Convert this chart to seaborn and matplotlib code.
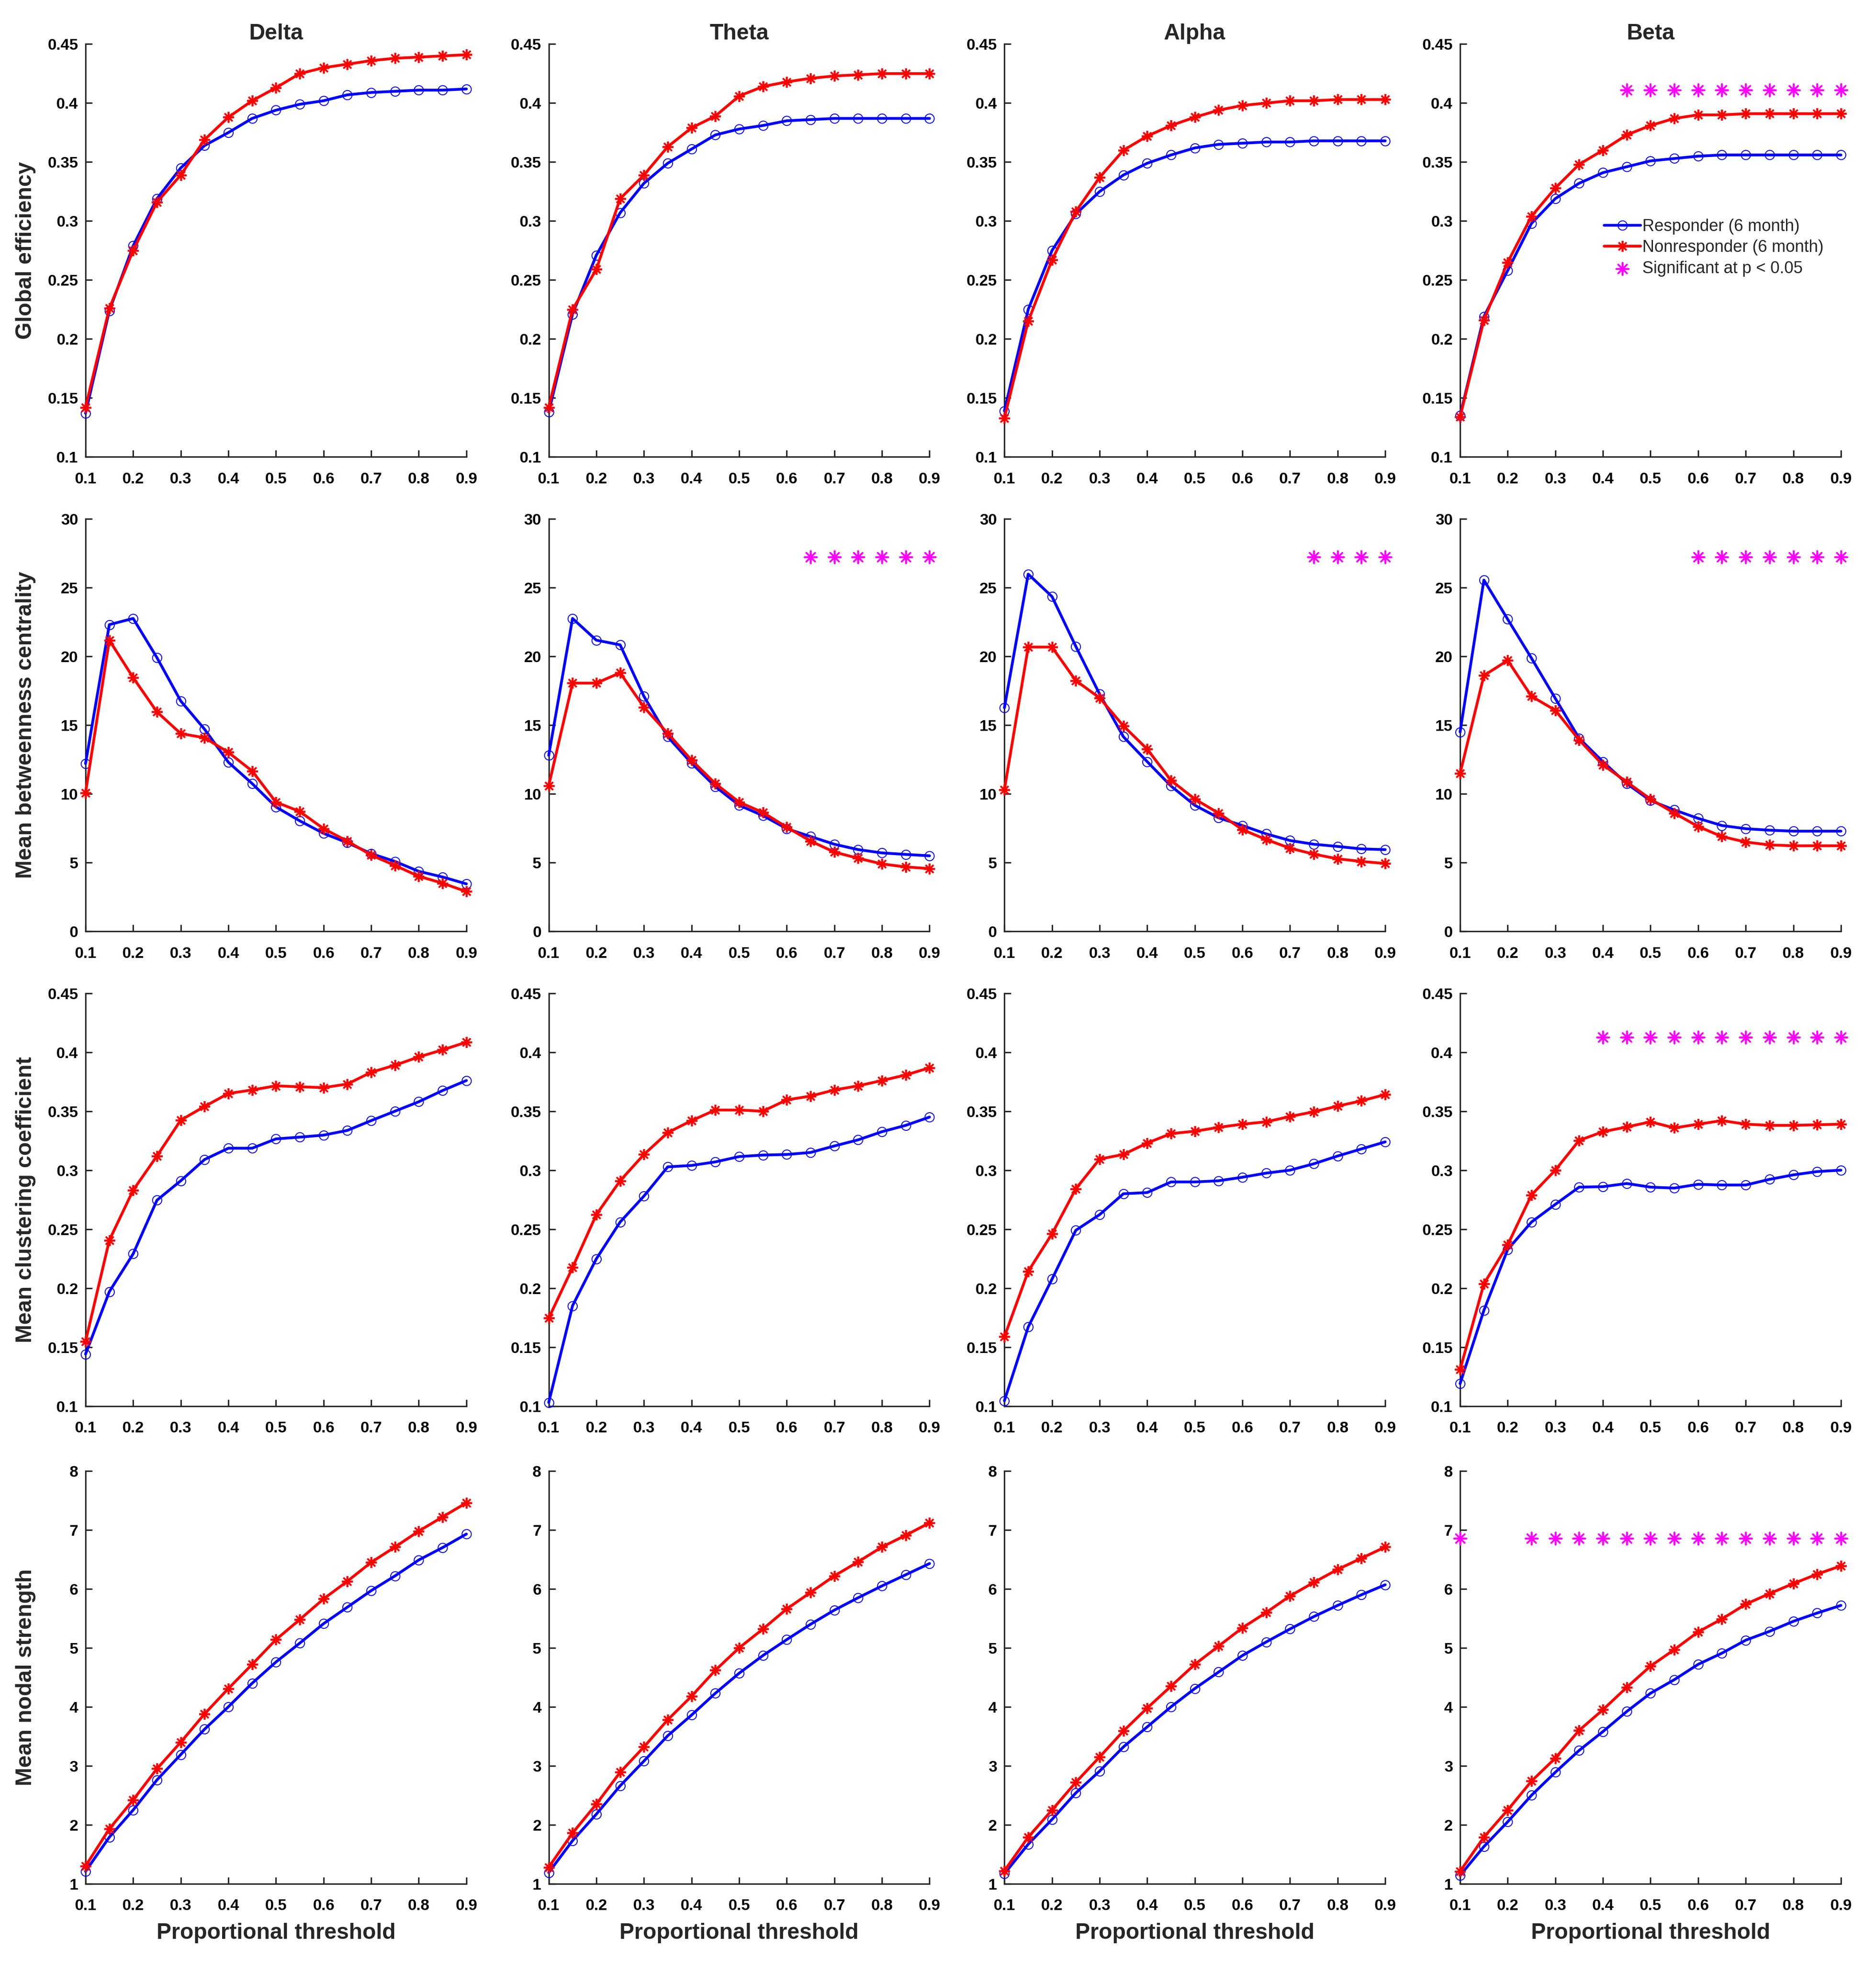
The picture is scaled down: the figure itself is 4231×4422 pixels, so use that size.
import numpy as np
import pandas as pd
import matplotlib
matplotlib.use('Agg')
from matplotlib import pyplot as plt
from matplotlib.ticker import FuncFormatter
import seaborn as sns

# Proportional thresholds (x axis)
thresholds = [0.1, 0.15, 0.2, 0.25, 0.3, 0.35, 0.4, 0.45, 0.5,
              0.55, 0.6, 0.65, 0.7, 0.75, 0.8, 0.85, 0.9]

bands = ['Delta', 'Theta', 'Alpha', 'Beta']
metrics = ['Global efficiency', 'Mean betweenness centrality',
           'Mean clustering coefficient', 'Mean nodal strength']

# Global efficiency
ge_delta_resp = [0.137, 0.224, 0.279, 0.319, 0.345, 0.364, 0.375, 0.387, 0.394,
                 0.399, 0.402, 0.407, 0.409, 0.410, 0.411, 0.411, 0.412]
ge_delta_non = [0.142, 0.226, 0.275, 0.316, 0.339, 0.369, 0.388, 0.402, 0.413,
                0.425, 0.430, 0.433, 0.436, 0.438, 0.439, 0.440, 0.441]
ge_theta_resp = [0.138, 0.221, 0.271, 0.307, 0.332, 0.349, 0.361, 0.373, 0.378,
                 0.381, 0.385, 0.386, 0.387, 0.387, 0.387, 0.387, 0.387]
ge_theta_non = [0.142, 0.225, 0.259, 0.319, 0.339, 0.363, 0.379, 0.389, 0.406,
                0.414, 0.418, 0.421, 0.423, 0.424, 0.425, 0.425, 0.425]
ge_alpha_resp = [0.139, 0.225, 0.275, 0.306, 0.325, 0.339, 0.349, 0.356, 0.362,
                 0.365, 0.366, 0.367, 0.367, 0.368, 0.368, 0.368, 0.368]
ge_alpha_non = [0.133, 0.215, 0.267, 0.308, 0.337, 0.360, 0.372, 0.381, 0.388,
                0.394, 0.398, 0.400, 0.402, 0.402, 0.403, 0.403, 0.403]
ge_beta_resp = [0.135, 0.219, 0.258, 0.298, 0.319, 0.332, 0.341, 0.346, 0.351,
                0.353, 0.355, 0.356, 0.356, 0.356, 0.356, 0.356, 0.356]
ge_beta_non = [0.134, 0.216, 0.265, 0.304, 0.328, 0.348, 0.360, 0.373, 0.381,
               0.387, 0.390, 0.390, 0.391, 0.391, 0.391, 0.391, 0.391]

# Mean betweenness centrality
bc_delta_resp = [12.2, 22.3, 22.75, 19.9, 16.75, 14.7, 12.3, 10.75, 9.05,
                 8.04, 7.13, 6.45, 5.66, 5.09, 4.37, 3.96, 3.46]
bc_delta_non = [10.08, 21.17, 18.45, 15.96, 14.38, 14.08, 13.02, 11.66, 9.40,
                8.72, 7.47, 6.57, 5.55, 4.80, 4.01, 3.51, 2.90]
bc_theta_resp = [12.8, 22.75, 21.17, 20.83, 17.09, 14.15, 12.23, 10.53, 9.17,
                 8.42, 7.47, 6.9, 6.34, 5.95, 5.71, 5.6, 5.5]
bc_theta_non = [10.6, 18.05, 18.05, 18.8, 16.3, 14.4, 12.45, 10.75, 9.4,
                8.65, 7.58, 6.57, 5.77, 5.32, 4.91, 4.69, 4.57]
bc_alpha_resp = [16.26, 25.97, 24.34, 20.72, 17.25, 14.15, 12.34, 10.57, 9.17,
                 8.26, 7.70, 7.09, 6.61, 6.34, 6.18, 6.0, 5.95]
bc_alpha_non = [10.3, 20.67, 20.67, 18.23, 16.98, 14.94, 13.25, 10.98, 9.62,
                8.6, 7.4, 6.68, 6.05, 5.62, 5.28, 5.09, 4.94]
bc_beta_resp = [14.5, 25.54, 22.69, 19.86, 16.94, 14.04, 12.34, 10.75, 9.51,
                8.83, 8.22, 7.70, 7.47, 7.36, 7.29, 7.29, 7.29]
bc_beta_non = [11.48, 18.6, 19.7, 17.09, 16.08, 13.92, 12.11, 10.87, 9.62,
               8.6, 7.63, 6.9, 6.5, 6.29, 6.23, 6.23, 6.23]

# Mean clustering coefficient
cc_delta_resp = [0.144, 0.197, 0.229, 0.2745, 0.291, 0.309, 0.3186, 0.3186, 0.3265,
                 0.328, 0.3297, 0.3337, 0.342, 0.350, 0.358, 0.3675, 0.376]
cc_delta_non = [0.1547, 0.2406, 0.283, 0.312, 0.3424, 0.354, 0.365, 0.368, 0.3715,
                0.3707, 0.370, 0.373, 0.383, 0.389, 0.396, 0.402, 0.4085]
cc_theta_resp = [0.103, 0.185, 0.2248, 0.256, 0.278, 0.3028, 0.304, 0.307, 0.3115,
                 0.3128, 0.3133, 0.315, 0.3205, 0.3257, 0.3326, 0.338, 0.345]
cc_theta_non = [0.1745, 0.2174, 0.2623, 0.291, 0.3133, 0.3318, 0.342, 0.351, 0.351,
                0.350, 0.3596, 0.3628, 0.368, 0.3715, 0.376, 0.3807, 0.3868]
cc_alpha_resp = [0.1045, 0.167, 0.2076, 0.249, 0.2623, 0.280, 0.281, 0.290, 0.290,
                 0.291, 0.294, 0.2975, 0.300, 0.3054, 0.312, 0.318, 0.324]
cc_alpha_non = [0.1587, 0.2142, 0.246, 0.2842, 0.3094, 0.3133, 0.323, 0.331, 0.333,
                0.3363, 0.339, 0.341, 0.3455, 0.3495, 0.3543, 0.3588, 0.3641]
cc_beta_resp = [0.119, 0.1811, 0.2327, 0.256, 0.271, 0.2856, 0.286, 0.2887, 0.2856,
                0.2848, 0.288, 0.2874, 0.2874, 0.2922, 0.296, 0.2988, 0.300]
cc_beta_non = [0.1309, 0.2036, 0.2367, 0.279, 0.300, 0.3252, 0.3326, 0.3366, 0.341,
               0.3358, 0.339, 0.342, 0.339, 0.338, 0.338, 0.3385, 0.339]

# Mean nodal strength
ns_delta_resp = [1.21, 1.79, 2.25, 2.76, 3.19, 3.62, 4.00, 4.40, 4.76,
                 5.08, 5.41, 5.69, 5.97, 6.22, 6.49, 6.70, 6.93]
ns_delta_non = [1.30, 1.93, 2.42, 2.95, 3.40, 3.88, 4.31, 4.72, 5.14,
                5.48, 5.83, 6.13, 6.45, 6.71, 6.98, 7.22, 7.46]
ns_theta_resp = [1.19, 1.73, 2.18, 2.66, 3.08, 3.51, 3.86, 4.23, 4.57,
                 4.87, 5.14, 5.40, 5.64, 5.85, 6.05, 6.24, 6.43]
ns_theta_non = [1.28, 1.86, 2.35, 2.89, 3.32, 3.78, 4.18, 4.62, 5.00,
                5.32, 5.66, 5.94, 6.22, 6.46, 6.71, 6.91, 7.12]
ns_alpha_resp = [1.17, 1.67, 2.09, 2.54, 2.91, 3.32, 3.66, 4.00, 4.31,
                 4.59, 4.87, 5.10, 5.32, 5.53, 5.72, 5.90, 6.07]
ns_alpha_non = [1.22, 1.79, 2.25, 2.72, 3.15, 3.59, 3.98, 4.35, 4.72,
                5.03, 5.34, 5.60, 5.88, 6.11, 6.33, 6.52, 6.71]
ns_beta_resp = [1.14, 1.63, 2.05, 2.50, 2.89, 3.26, 3.58, 3.92, 4.23,
                4.46, 4.72, 4.91, 5.13, 5.28, 5.45, 5.59, 5.72]
ns_beta_non = [1.21, 1.79, 2.25, 2.74, 3.13, 3.60, 3.95, 4.33, 4.69,
               4.97, 5.27, 5.49, 5.74, 5.92, 6.09, 6.25, 6.39]

# Significant thresholds (p < 0.05) and the height of the star row
sig_ge_beta = [0.45, 0.5, 0.55, 0.6, 0.65, 0.7, 0.75, 0.8, 0.85, 0.9]
sig_bc_theta = [0.65, 0.7, 0.75, 0.8, 0.85, 0.9]
sig_bc_alpha = [0.75, 0.8, 0.85, 0.9]
sig_bc_beta = [0.6, 0.65, 0.7, 0.75, 0.8, 0.85, 0.9]
sig_cc_beta = [0.4, 0.45, 0.5, 0.55, 0.6, 0.65, 0.7, 0.75, 0.8, 0.85, 0.9]
sig_ns_beta = [0.1, 0.25, 0.3, 0.35, 0.4, 0.45, 0.5, 0.55, 0.6,
               0.65, 0.7, 0.75, 0.8, 0.85, 0.9]
sig_level = {'ge': 0.411, 'bc': 27.2, 'cc': 0.4125, 'ns': 6.86}

# Axis ranges and ticks for each metric row
y_limits = {'ge': (0.1, 0.45), 'bc': (0, 30), 'cc': (0.1, 0.45), 'ns': (1, 8)}
y_ticks = {'ge': np.arange(0.1, 0.451, 0.05), 'bc': np.arange(0, 31, 5),
           'cc': np.arange(0.1, 0.451, 0.05), 'ns': np.arange(1, 9, 1)}

panels = {
    'ge': [(ge_delta_resp, ge_delta_non, None), (ge_theta_resp, ge_theta_non, None),
           (ge_alpha_resp, ge_alpha_non, None), (ge_beta_resp, ge_beta_non, sig_ge_beta)],
    'bc': [(bc_delta_resp, bc_delta_non, None), (bc_theta_resp, bc_theta_non, sig_bc_theta),
           (bc_alpha_resp, bc_alpha_non, sig_bc_alpha), (bc_beta_resp, bc_beta_non, sig_bc_beta)],
    'cc': [(cc_delta_resp, cc_delta_non, None), (cc_theta_resp, cc_theta_non, None),
           (cc_alpha_resp, cc_alpha_non, None), (cc_beta_resp, cc_beta_non, sig_cc_beta)],
    'ns': [(ns_delta_resp, ns_delta_non, None), (ns_theta_resp, ns_theta_non, None),
           (ns_alpha_resp, ns_alpha_non, None), (ns_beta_resp, ns_beta_non, sig_ns_beta)],
}
row_keys = ['ge', 'bc', 'cc', 'ns']

sns.set_style('ticks')
plt.rcParams['font.family'] = ['Liberation Sans', 'DejaVu Sans']
plt.rcParams['axes.linewidth'] = 0.8

fig = plt.figure(figsize=(4231 / 300, 4422 / 300), dpi=300)

col_left = [0.0456, 0.2925, 0.5354, 0.7783]
row_bottom = [0.767, 0.525, 0.283, 0.0394]
ax_w, ax_h = 0.203, 0.2105

asterisk = (8, 2, 0)  # MATLAB-style '*'
fmt = FuncFormatter(lambda v, pos: '%g' % round(v, 3))

for r, key in enumerate(row_keys):
    for c, band in enumerate(bands):
        ax = fig.add_axes([col_left[c], row_bottom[r], ax_w, ax_h])
        resp, non, sig = panels[key][c]
        show_legend = (key == 'ge' and band == 'Beta')

        df = pd.DataFrame({'threshold': thresholds, 'resp': resp, 'non': non})
        sns.lineplot(data=df, x='threshold', y='resp', ax=ax, color='#0000FF',
                     linewidth=1.5, marker='o', markersize=5, markerfacecolor='none',
                     markeredgecolor='#0000FF', markeredgewidth=0.5, clip_on=False,
                     zorder=3, label='Responder (6 month)' if show_legend else None)
        sns.lineplot(data=df, x='threshold', y='non', ax=ax, color='#FF0000',
                     linewidth=1.5, marker=asterisk, markersize=6,
                     markeredgecolor='#FF0000', markeredgewidth=0.9, clip_on=False,
                     zorder=3, label='Nonresponder (6 month)' if show_legend else None)
        if sig is not None:
            sns.scatterplot(x=sig, y=np.full(len(sig), sig_level[key]), ax=ax,
                            marker=asterisk, s=45, color='#FF00FF', linewidth=0.9,
                            clip_on=False, zorder=4,
                            label='Significant at p < 0.05' if show_legend else None)

        ax.set_xlim(0.1, 0.9)
        ax.set_ylim(*y_limits[key])
        ax.set_xticks(np.arange(0.1, 0.91, 0.1))
        ax.set_yticks(y_ticks[key])
        ax.xaxis.set_major_formatter(fmt)
        ax.yaxis.set_major_formatter(fmt)
        ax.tick_params(direction='in', length=3.5, width=0.8, colors='#262626',
                       labelcolor='black', labelsize=8.5)
        ax.tick_params(axis='x', pad=8)
        ax.tick_params(axis='y', pad=4)
        for lab in ax.get_xticklabels() + ax.get_yticklabels():
            lab.set_fontweight('bold')
        sns.despine(ax=ax)
        for sp in ['left', 'bottom']:
            ax.spines[sp].set_color('#262626')

        ax.set_xlabel('')
        ax.set_ylabel('')
        if r == 0:
            ax.set_title(band, fontsize=12, fontweight='bold', pad=-2)
        if r == 3:
            ax.set_xlabel('Proportional threshold', fontsize=12, fontweight='bold')
            ax.xaxis.set_label_coords(0.5, -0.095)
        if c == 0:
            ax.set_ylabel(metrics[r], fontsize=12, fontweight='bold')
            ax.yaxis.set_label_coords(-0.13, 0.5)

        if show_legend:
            ax.legend(loc='upper left', bbox_to_anchor=(0.378, 0.577), frameon=False,
                      fontsize=9, handlelength=2.2, handletextpad=0.1,
                      labelspacing=0.3, borderaxespad=0, borderpad=0)
        elif ax.get_legend() is not None:
            ax.get_legend().remove()

fig.savefig('out.png', dpi=300, facecolor='white')
